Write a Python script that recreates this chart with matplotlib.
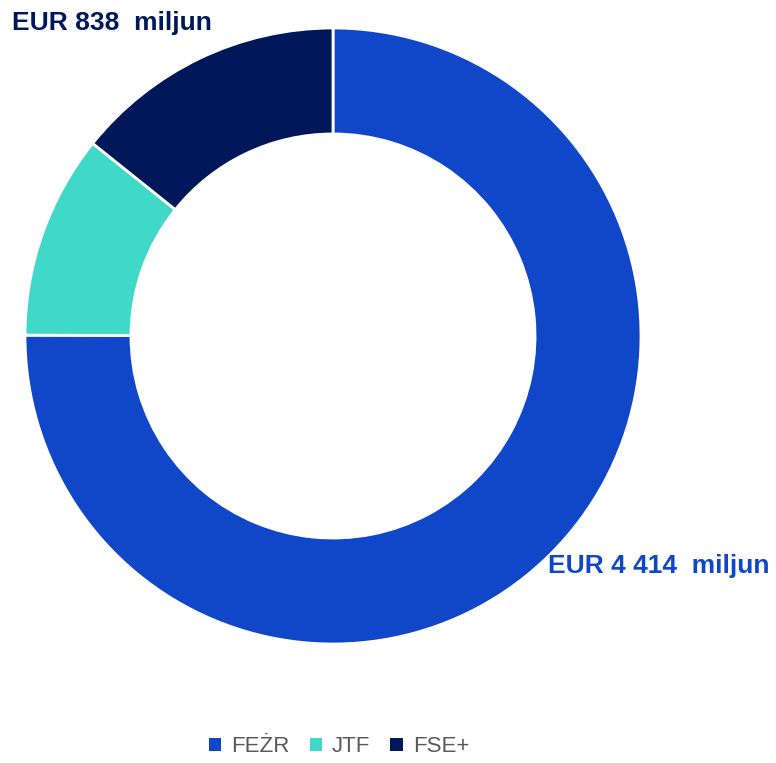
import numpy as np
import matplotlib.pyplot as plt
from matplotlib.patches import Patch

# data
labels = ['FEŻR', 'JTF', 'FSE+']
values = [4414, 630, 838]
colors = ['#0F47C8', '#40D9C8', '#00175A']
text_labels = ['EUR 4 414  miljun', None, 'EUR 838  miljun']

plt.rcParams['font.family'] = ['Liberation Sans', 'DejaVu Sans']

W, H = 776, 763
cx, cy, R = 333, 336, 308

fig = plt.figure(figsize=(W / 100, H / 100), dpi=100)
ax = fig.add_axes([(cx - R) / W, (H - cy - R) / H, 2 * R / W, 2 * R / H])
ax.pie(values, colors=colors, startangle=90, counterclock=False,
       radius=1.0, wedgeprops=dict(width=0.344, edgecolor='white', linewidth=2))
ax.set_xlim(-1, 1)
ax.set_ylim(-1, 1)
ax.set_aspect('equal')
ax.axis('off')

# value labels
fig.text(12 / W, 1 - 23 / H, text_labels[2], fontsize=19, fontweight='bold',
         color=colors[2], ha='left', va='center')
fig.text(548 / W, 1 - 566 / H, text_labels[0], fontsize=19, fontweight='bold',
         color=colors[0], ha='left', va='center')

handles = [Patch(facecolor=c, edgecolor='none') for c in colors]
fig.legend(handles, labels, loc='center', bbox_to_anchor=(0.437, 1 - 747 / H),
           ncol=3, frameon=False, fontsize=16, labelcolor='#595959',
           handlelength=0.55, handleheight=0.55, handletextpad=0.45, columnspacing=0.9)

fig.savefig('out.png', dpi=100)
